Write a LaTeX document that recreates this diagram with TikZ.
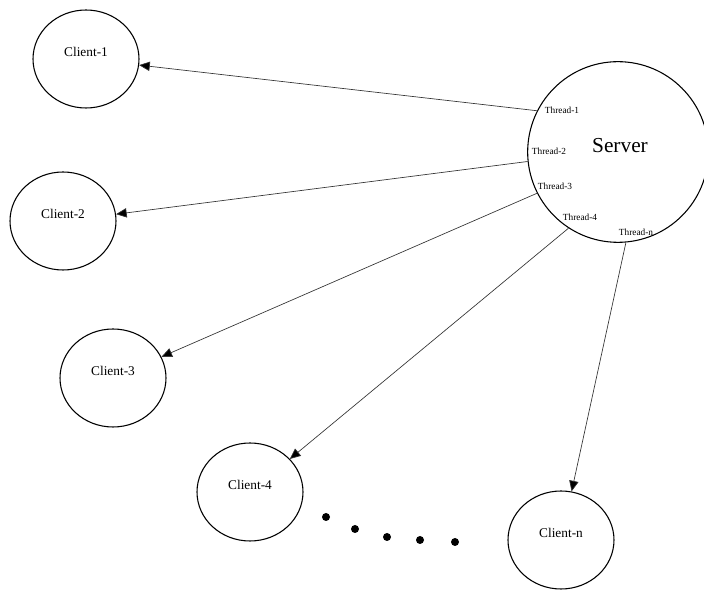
\documentclass[tikz,border=0pt]{standalone}
\usepackage{fontspec}
\setmainfont{Liberation Serif}
\usetikzlibrary{shapes.geometric,arrows.meta}

\tikzset{
    client/.style={draw, thick, ellipse, minimum width=79.5pt, minimum height=73.5pt,
        inner sep=0pt, font=\fontsize{10}{12}\selectfont, text height=7pt, text depth=10pt},
    server/.style={draw, thick, circle, minimum size=135.5pt, inner sep=0pt},
    thread/.style={inner sep=0pt, font=\fontsize{7}{8}\selectfont},
    link/.style={draw=black!80, line width=0.5pt, -{Triangle[length=8pt,width=7pt,fill=black]}},
}

\begin{document}
\begin{tikzpicture}[x=0.75pt, y=-0.75pt]
    \useasboundingbox (0,0) rectangle (704,591);

    % Serveur
    \node[server] (srv) at (618,152) {};
    \node[font=\fontsize{16}{19}\selectfont] (srvtxt) at (620,146) {Server};

    % Threads
    \node[thread] (t1) at (562,110) {Thread-1};
    \node[thread] (t2) at (549,151) {Thread-2};
    \node[thread] (t3) at (555,186) {Thread-3};
    \node[thread] (t4) at (580,217) {Thread-4};
    \node[thread] (tn) at (636,232) {Thread-n};

    % Clients
    \node[client] (c1) at (86,59) {Client-1};
    \node[client] (c2) at (63,221) {Client-2};
    \node[client] (c3) at (113,378) {Client-3};
    \node[client] (c4) at (250,492) {Client-4};
    \node[client] (cn) at (561,540) {Client-n};

    % Connexions
    \draw[link] (srv.153) -- (c1);
    \draw[link] (srv.186) -- (c2);
    \draw[link] (srv.207) -- (c3);
    \draw[link] (srv.237) -- (c4);
    \draw[link] (srv.275) -- (cn);

    % Points de suspension
    \foreach \px/\py in {326/517, 355/529, 387/537, 420/540, 455/542}
        \fill (\px,\py) circle (3pt);

\end{tikzpicture}
\end{document}
